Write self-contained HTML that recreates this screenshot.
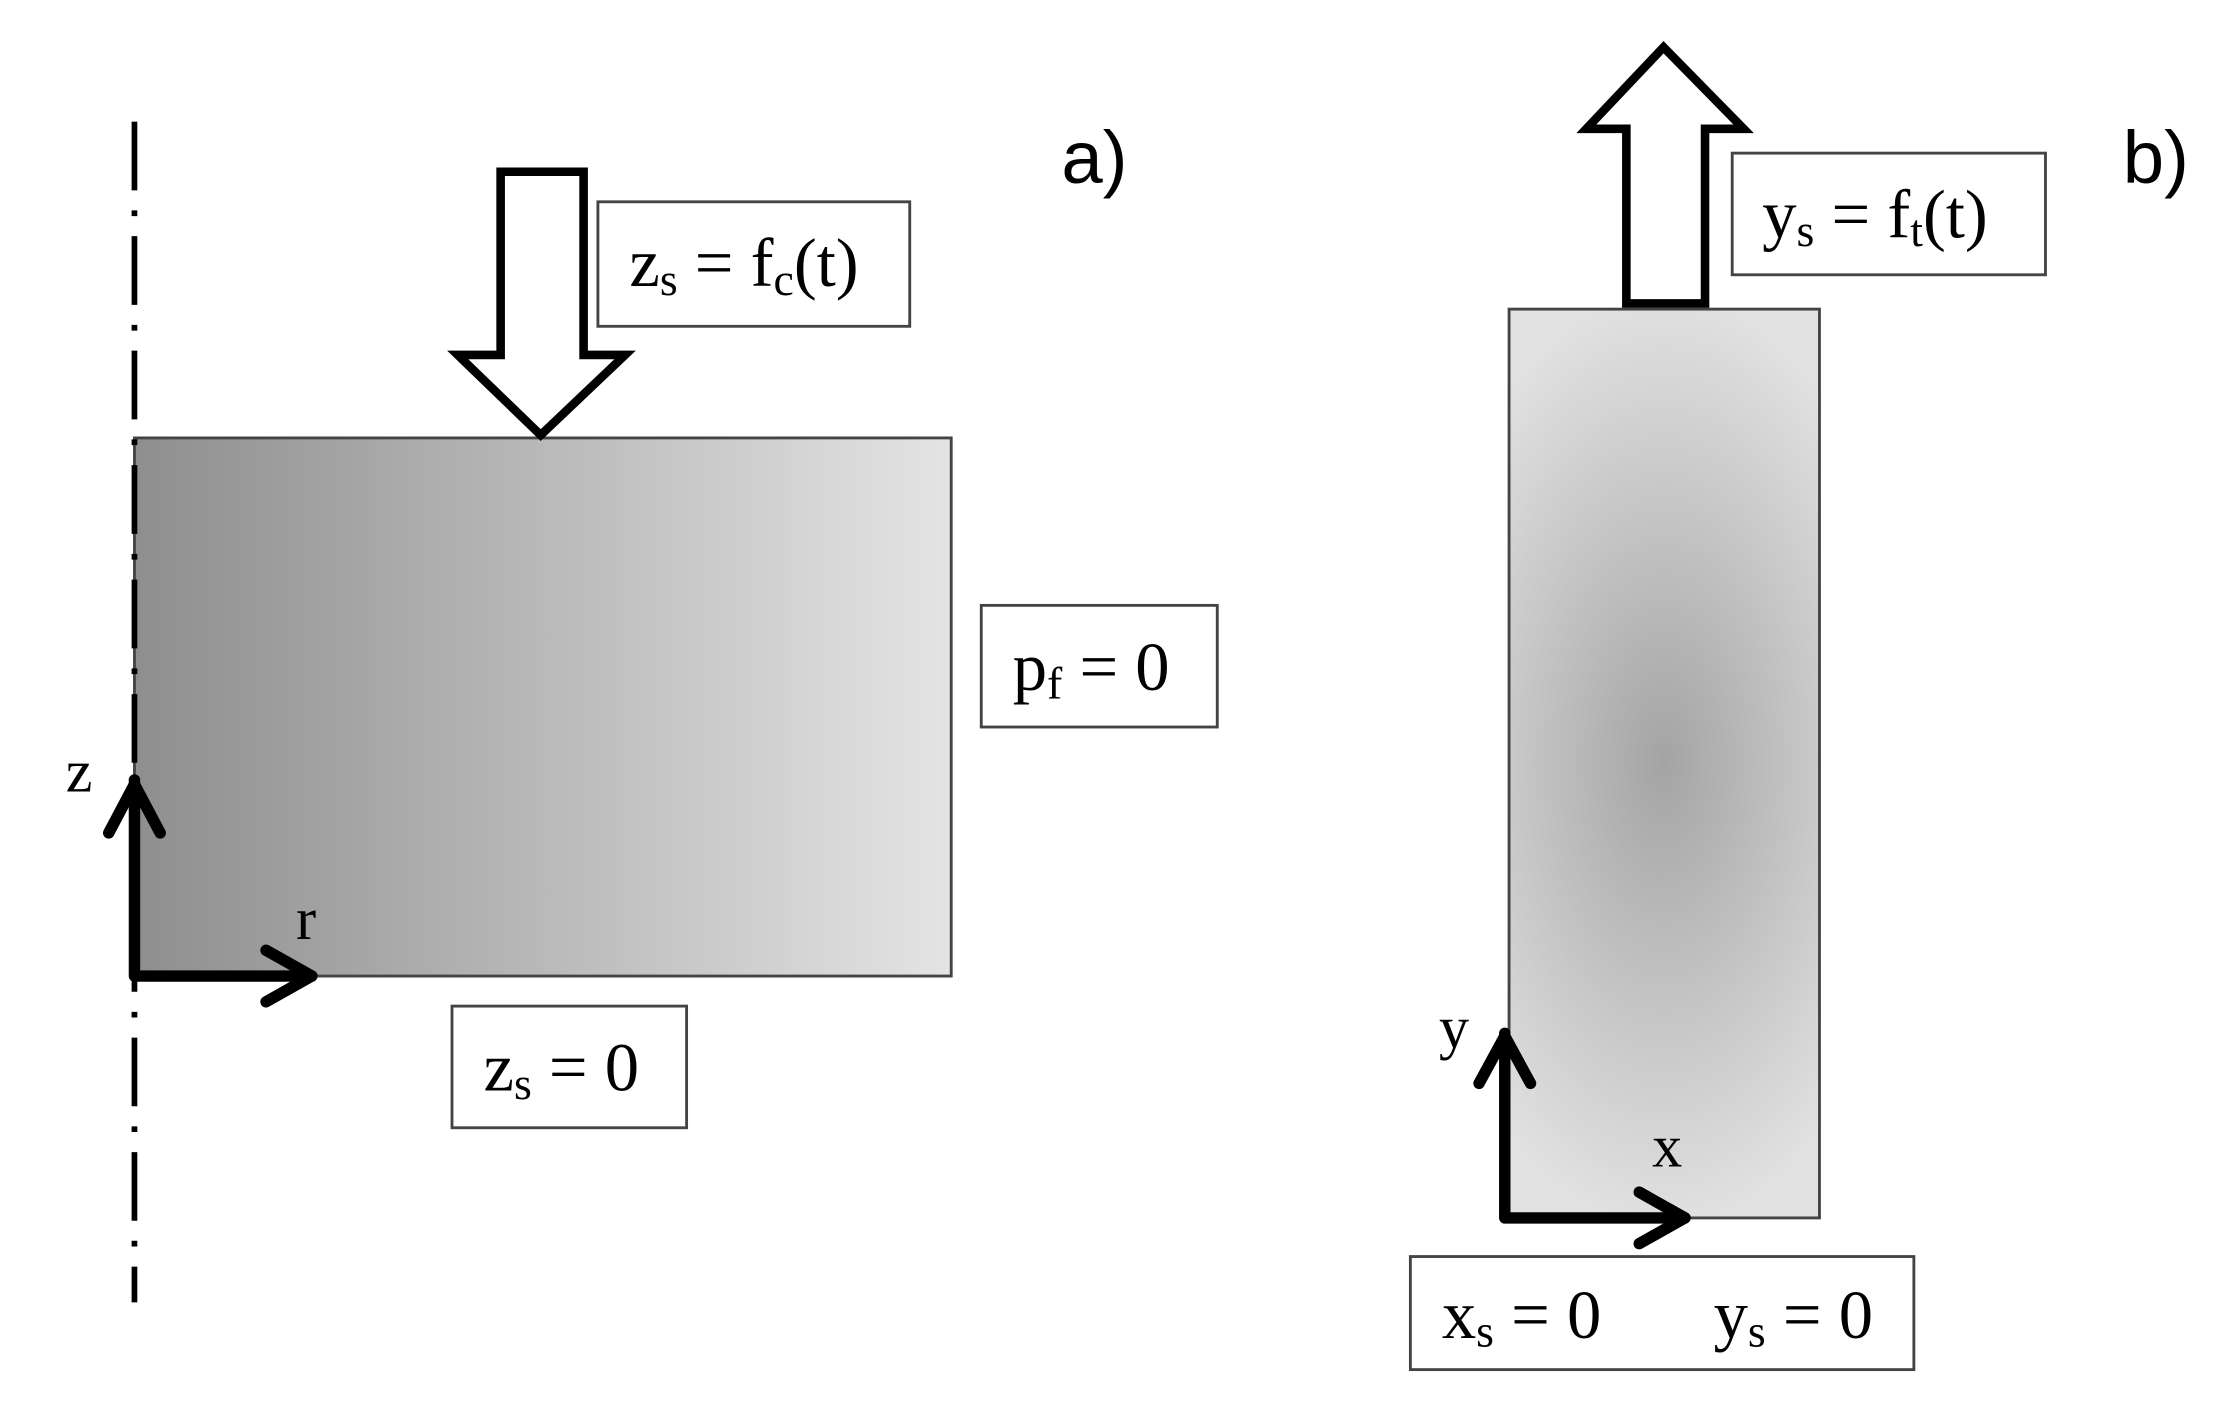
<!DOCTYPE html>
<html><head><meta charset="utf-8"><style>html,body{margin:0;padding:0;background:#fff}svg{display:block}</style></head>
<body>
<svg width="2240" height="1424" viewBox="0 0 1566 995" preserveAspectRatio="none" xmlns="http://www.w3.org/2000/svg">
<defs>
<linearGradient id="ga" x1="0" x2="1" y1="0" y2="0">
<stop offset="0" stop-color="#8e8e8e"/><stop offset="1" stop-color="#e4e4e4"/>
</linearGradient>
<radialGradient id="gb2" cx="1163" cy="532" r="330" gradientUnits="userSpaceOnUse" gradientTransform="translate(1163 532) scale(0.55 1) translate(-1163 -532)">
<stop offset="0" stop-color="#a4a4a4"/><stop offset="1" stop-color="#e2e2e2"/>
</radialGradient>
</defs>
<g font-family="'Liberation Serif', serif" fill="#000">
<!-- a -->
<rect x="94" y="306" width="571" height="376" fill="url(#ga)" stroke="#444" stroke-width="2"/>
<line x1="94" y1="85" x2="94" y2="910" stroke="#000" stroke-width="4" stroke-dasharray="48,14,4,14"/>
<polygon points="350,120 408,120 408,248 437,248 378,304 320,248 350,248" fill="#fff" stroke="#000" stroke-width="6" stroke-linejoin="miter"/>
<rect x="418" y="141" width="218" height="87" fill="#fff" stroke="#444" stroke-width="2"/>
<text x="440" y="200" font-size="48">z<tspan font-size="32" dy="6">s</tspan><tspan dy="-6"> = f</tspan><tspan font-size="32" dy="6">c</tspan><tspan dy="-6">(t)</tspan></text>
<rect x="686" y="423" width="165" height="85" fill="#fff" stroke="#444" stroke-width="2"/>
<text x="708" y="482" font-size="48">p<tspan font-size="32" dy="6">f</tspan><tspan dy="-6"> = 0</tspan></text>
<rect x="316" y="703" width="164" height="85" fill="#fff" stroke="#444" stroke-width="2"/>
<text x="338" y="762" font-size="48">z<tspan font-size="32" dy="6">s</tspan><tspan dy="-6"> = 0</tspan></text>
<g stroke="#000" stroke-width="8" fill="none" stroke-linecap="round" stroke-linejoin="round">
<polyline points="94,545 94,682 218,682"/>
<polyline points="76,582 94,548 112,582"/>
<polyline points="186,664 218,682 186,700"/>
</g>
<text x="46" y="553" font-size="42">z</text>
<text x="207" y="656" font-size="42">r</text>
<text x="742" y="128" font-size="52" font-family="'Liberation Sans', sans-serif">a)</text>
<!-- b -->
<rect x="1055" y="216" width="217" height="635" fill="url(#gb2)" stroke="#444" stroke-width="2"/>
<polygon points="1137,212 1137,90 1109,90 1163,33 1219,90 1192,90 1192,212" fill="#fff" stroke="#000" stroke-width="6"/>
<rect x="1211" y="107" width="219" height="85" fill="#fff" stroke="#444" stroke-width="2"/>
<text x="1232" y="166" font-size="48">y<tspan font-size="32" dy="6">s</tspan><tspan dy="-6"> = f</tspan><tspan font-size="32" dy="6">t</tspan><tspan dy="-6">(t)</tspan></text>
<text x="1484" y="128" font-size="52" font-family="'Liberation Sans', sans-serif">b)</text>
<g stroke="#000" stroke-width="8" fill="none" stroke-linecap="round" stroke-linejoin="round">
<polyline points="1052,722 1052,851 1178,851"/>
<polyline points="1034,757 1052,724 1070,757"/>
<polyline points="1146,833 1178,851 1146,869"/>
</g>
<text x="1006" y="732" font-size="42">y</text>
<text x="1155" y="815" font-size="42">x</text>
<rect x="986" y="878" width="352" height="79" fill="#fff" stroke="#444" stroke-width="2"/>
<text x="1008" y="935" font-size="48">x<tspan font-size="32" dy="6">s</tspan><tspan dy="-6"> = 0</tspan></text>
<text x="1198" y="935" font-size="48">y<tspan font-size="32" dy="6">s</tspan><tspan dy="-6"> = 0</tspan></text>
</g>
</svg>
</body></html>
